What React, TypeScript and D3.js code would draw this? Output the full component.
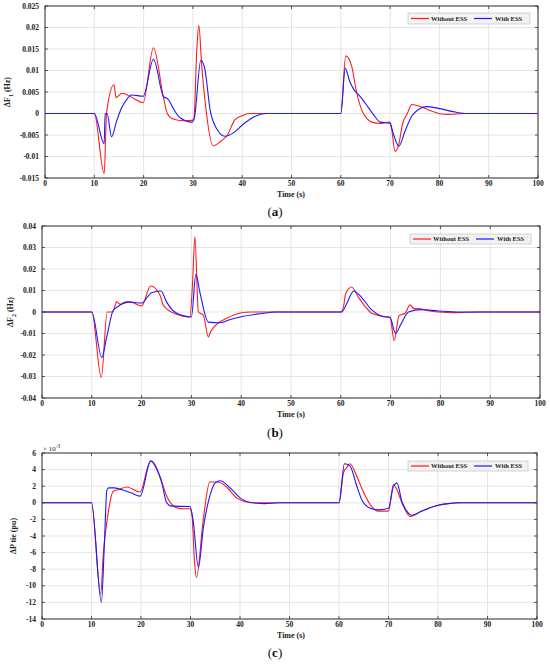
import { useEffect, useRef } from "react";
import * as d3 from "d3";

type Pt = [number, number];

const timeTicks = [0, 10, 20, 30, 40, 50, 60, 70, 80, 90, 100];
const legendNames = ["Without ESS", "With ESS"];

// (a) frequency deviation, area 1
const f1Ticks = [-0.015, -0.01, -0.005, 0, 0.005, 0.01, 0.015, 0.02, 0.025];
const f1Without: Pt[] = [
  [0, 0], [10, 0], [12, -0.014], [12.5, 0.0003], [14, 0.0067], [14.4, 0.0037], [15.6, 0.0047],
  [18, 0.0035], [19.9, 0.0025], [22, 0.0153], [24, 0.0039], [24.8, 0], [26, -0.0013],
  [28, -0.0017], [29.8, -0.0016], [30.2, -0.0012], [30.8, 0.015], [31.2, 0.0205], [31.8, 0.011],
  [32.6, 0.0015], [34.1, -0.0075], [35.5, -0.0066], [37, -0.005], [38.5, -0.0015], [40, -0.0005],
  [41.5, 0], [60, 0], [61, 0.0134], [62.2, 0.011], [63.2, 0.005], [64.2, 0.0009], [65.3, -0.0012],
  [66.3, -0.002], [68, -0.0023], [69.9, -0.002], [70.3, -0.0035], [71, -0.0088], [71.8, -0.007],
  [72.5, -0.0025], [73.5, 0], [74.4, 0.0021], [76.4, 0.0015], [78.4, 0.0006], [79.8, 0],
  [81.8, -0.0002], [85, 0], [100, 0],
];
const f1With: Pt[] = [
  [0, 0], [10, 0], [12, -0.007], [12.2, 0], [12.6, 0], [13.5, -0.0054], [14.5, -0.0019],
  [15.5, 0.0012], [16.6, 0.0033], [17.6, 0.0043], [19.9, 0.004], [22, 0.0126], [24, 0.004],
  [25, 0.0033], [26.2, 0.0008], [27.4, -0.001], [29.8, -0.002], [30.3, -0.001], [31.6, 0.0124],
  [32.4, 0.0105], [33.5, 0.0008], [34.8, -0.0035], [36.5, -0.0053], [38.2, -0.0045],
  [40.2, -0.0025], [42.9, -0.0005], [45, 0], [60, 0], [60.9, 0.0105], [61.8, 0.0075],
  [62.7, 0.0055], [63.9, 0.004], [64.9, 0.0025], [66.6, -0.0002], [68, -0.002], [70, -0.0023],
  [70.6, -0.0045], [71.8, -0.0076], [73, -0.0042], [74.4, -0.0006], [75.7, 0.0009],
  [77.4, 0.0016], [79.8, 0.0012], [82.5, 0.0005], [85.2, 0], [100, 0],
];

// (b) frequency deviation, area 2
const f2Ticks = [-0.04, -0.03, -0.02, -0.01, 0, 0.01, 0.02, 0.03, 0.04];
const f2Without: Pt[] = [
  [0, 0], [10, 0], [11.9, -0.0305], [13.1, 0], [14.2, 0], [15, 0.0047], [15.7, 0.0036],
  [17.7, 0.0047], [20, 0.0028], [21.8, 0.0121], [23.7, 0.0078], [24.4, 0.003], [27, -0.001],
  [29.7, -0.0023], [30.2, 0.012], [30.7, 0.035], [31.4, 0], [32.4, -0.0015], [33.4, -0.0116],
  [33.9, -0.009], [35.7, -0.0046], [37, -0.003], [39.8, -0.0005], [42, 0], [60, 0], [60.5, 0.002],
  [61, 0.0087], [62.2, 0.0116], [63.5, 0.007], [64.9, 0.0025], [66.2, -0.0006], [68.2, -0.0019],
  [69.9, -0.0025], [70.7, -0.0133], [71.7, -0.0017], [72.9, -0.0006], [73.9, 0.0033],
  [74.6, 0.0017], [76.2, 0.0014], [77.6, 0.0006], [79.6, 0], [82.9, -0.0003], [88, 0], [100, 0],
];
const f2With: Pt[] = [
  [0, 0], [10, 0], [12, -0.0212], [13, -0.0116], [14.3, 0.0008], [15.3, 0.0026], [17, 0.0047],
  [20, 0.0042], [22, 0.009], [23.9, 0.0098], [25, 0.0047], [27, -0.0005], [30, -0.0023],
  [30.9, 0.0175], [31.7, 0.0093], [33.4, -0.0047], [35.7, -0.005], [37.5, -0.0037],
  [39.8, -0.0023], [43.8, -0.0008], [47, 0], [60.2, 0], [61.2, 0.004], [62.6, 0.0098],
  [64.2, 0.0067], [66.2, 0.001], [68.2, -0.002], [69.9, -0.0027], [71, -0.0099], [72, -0.006],
  [73.6, 0], [76.2, 0.0011], [79.6, 0.0005], [84, 0], [100, 0],
];

// (c) tie-line power deviation (x 10^-3 pu)
const pTicks = [-14, -12, -10, -8, -6, -4, -2, 0, 2, 4, 6];
const pWithout: Pt[] = [
  [0, 0], [10, 0], [11.85, -11], [12.4, -6], [13.2, -1.9], [14.4, 1.4], [15.5, 1.6], [17.1, 1.9],
  [19.8, 1.3], [21.9, 5], [23.8, 3.2], [25.2, 0.8], [26.5, -0.35], [27.9, -0.7], [29.9, -0.72],
  [30.3, -1.5], [30.8, -7], [31.2, -9], [32.6, -1.9], [33.9, 2.5], [35.5, 2.5], [37.3, 1.9],
  [39.3, 0.6], [41.3, 0.1], [43, 0], [60, 0], [60.9, 3.6], [61.5, 4.2], [62.2, 4.7], [63.6, 3.2],
  [64.7, 1.6], [66.6, -0.45], [67.9, -1], [70, -1], [71, 2.2], [71.7, 1.6], [72.7, 0],
  [73.7, -1.2], [74.3, -1.65], [76.7, -1], [80, -0.3], [82, -0.1], [85, 0], [100, 0],
];
const pWith: Pt[] = [
  [0, 0], [10, 0], [12, -12], [12.6, -5], [13.1, 1.5], [13.5, 1.8], [14.5, 1.8], [16, 1.6],
  [18, 1.2], [19.8, 0.8], [22, 5.05], [24.2, 2.4], [25.2, 0], [26.2, -0.4], [29.9, -0.45],
  [30.5, -2], [31.6, -7.8], [32.6, -3], [33.9, 0.8], [35, 2.4], [36, 2.65], [38, 1.8], [40, 0.6],
  [42.6, 0], [45, -0.1], [48, 0], [60, 0], [61.1, 4.7], [62.2, 4.45], [63.6, 2], [64.7, 0.24],
  [66.3, -0.65], [67.9, -0.85], [70, -0.65], [71, 2], [71.7, 2.4], [72.7, 0.16], [73.7, -1],
  [74.7, -1.5], [76.7, -1], [80, -0.3], [82.1, -0.1], [84, 0], [100, 0],
];

const SERIF = "'Liberation Serif', 'Times New Roman', serif";
const RED = "#ff1a1a";
const BLUE = "#1a1aff";

interface Panel {
  left: number;
  right: number;
  top: number;
  bottom: number;
  yTicks: number[];
  yFmt: (v: number) => string;
  without: Pt[];
  withEss: Pt[];
  label: string;
  sub: string;
  unit: string;
  labelX: number;
  caption: string;
  captionY: number;
  legend: { x: number; y: number; w: number; h: number };
  exponent?: boolean;
}

const panels: Panel[] = [
  {
    left: 45, right: 538, top: 6, bottom: 178,
    yTicks: f1Ticks, yFmt: (v) => String(+v.toFixed(3)),
    without: f1Without, withEss: f1With,
    label: "ΔF", sub: "1", unit: " (Hz)", labelX: 10,
    caption: "a", captionY: 216,
    legend: { x: 408, y: 13, w: 122, h: 11 },
  },
  {
    left: 42, right: 540, top: 226, bottom: 398,
    yTicks: f2Ticks, yFmt: (v) => String(+v.toFixed(2)),
    without: f2Without, withEss: f2With,
    label: "ΔF", sub: "2", unit: " (Hz)", labelX: 13,
    caption: "b", captionY: 437,
    legend: { x: 410, y: 234, w: 121, h: 10 },
  },
  {
    left: 42, right: 537, top: 453, bottom: 619,
    yTicks: pTicks, yFmt: (v) => String(v),
    without: pWithout, withEss: pWith,
    label: "ΔP tie (pu)", sub: "", unit: "", labelX: 16,
    caption: "c", captionY: 657,
    legend: { x: 408, y: 461, w: 120, h: 10 },
    exponent: true,
  },
];

export default function App() {
  const ref = useRef<SVGSVGElement | null>(null);

  useEffect(() => {
    const svg = d3.select(ref.current);
    svg.selectAll("*").remove();

    panels.forEach((p) => {
      const x = d3.scaleLinear().domain([0, 100]).range([p.left, p.right]);
      const yExt = d3.extent(p.yTicks) as [number, number];
      const y = d3.scaleLinear().domain(yExt).range([p.bottom, p.top]);
      const g = svg.append("g");

      // grid
      timeTicks.forEach((t) => {
        g.append("line")
          .attr("x1", x(t)).attr("x2", x(t))
          .attr("y1", p.top).attr("y2", p.bottom)
          .attr("stroke", "#dedede").attr("stroke-width", 0.8);
      });
      p.yTicks.forEach((v) => {
        g.append("line")
          .attr("x1", p.left).attr("x2", p.right)
          .attr("y1", y(v)).attr("y2", y(v))
          .attr("stroke", "#dedede").attr("stroke-width", 0.8);
      });

      // ticks (inward, all sides)
      timeTicks.forEach((t) => {
        g.append("line").attr("x1", x(t)).attr("x2", x(t)).attr("y1", p.bottom).attr("y2", p.bottom - 3)
          .attr("stroke", "#333").attr("stroke-width", 0.8);
        g.append("line").attr("x1", x(t)).attr("x2", x(t)).attr("y1", p.top).attr("y2", p.top + 3)
          .attr("stroke", "#333").attr("stroke-width", 0.8);
        g.append("text")
          .attr("x", x(t)).attr("y", p.bottom + 8)
          .attr("text-anchor", "middle")
          .attr("font-family", SERIF).attr("font-size", 7.5).attr("font-weight", "bold")
          .attr("fill", "#222")
          .text(t);
      });
      p.yTicks.forEach((v) => {
        g.append("line").attr("x1", p.left).attr("x2", p.left + 3).attr("y1", y(v)).attr("y2", y(v))
          .attr("stroke", "#333").attr("stroke-width", 0.8);
        g.append("line").attr("x1", p.right).attr("x2", p.right - 3).attr("y1", y(v)).attr("y2", y(v))
          .attr("stroke", "#333").attr("stroke-width", 0.8);
        g.append("text")
          .attr("x", p.left - 6).attr("y", y(v) + 2.5)
          .attr("text-anchor", "end")
          .attr("font-family", SERIF).attr("font-size", 7.5).attr("font-weight", "bold")
          .attr("fill", "#222")
          .text(p.yFmt(v));
      });

      // series
      const line = d3
        .line<Pt>()
        .x((d) => x(d[0]))
        .y((d) => y(d[1]))
        .curve(d3.curveMonotoneX);
      g.append("path").datum(p.without).attr("fill", "none").attr("stroke", RED)
        .attr("stroke-width", 1.1).attr("stroke-linejoin", "round").attr("d", line);
      g.append("path").datum(p.withEss).attr("fill", "none").attr("stroke", BLUE)
        .attr("stroke-width", 1.1).attr("stroke-linejoin", "round").attr("d", line);

      // frame
      g.append("rect")
        .attr("x", p.left).attr("y", p.top)
        .attr("width", p.right - p.left).attr("height", p.bottom - p.top)
        .attr("fill", "none").attr("stroke", "#333").attr("stroke-width", 1);

      // y label
      const cy = (p.top + p.bottom) / 2;
      const yl = g.append("text")
        .attr("transform", `translate(${p.labelX},${cy}) rotate(-90)`)
        .attr("text-anchor", "middle")
        .attr("font-family", SERIF).attr("font-size", 8).attr("font-weight", "bold")
        .attr("fill", "#222");
      yl.append("tspan").text(p.label);
      if (p.sub) {
        yl.append("tspan").attr("font-size", 6).attr("dy", 2.5).text(p.sub);
        yl.append("tspan").attr("dy", -2.5).text(p.unit);
      }

      if (p.exponent) {
        const ex = g.append("text")
          .attr("x", p.left + 1).attr("y", p.top - 2)
          .attr("font-family", SERIF).attr("font-size", 7).attr("fill", "#222");
        ex.append("tspan").text("× 10");
        ex.append("tspan").attr("font-size", 5.5).attr("dy", -3).text("-3");
      }

      // x label
      g.append("text")
        .attr("x", 291).attr("y", p.bottom + 18.5)
        .attr("text-anchor", "middle")
        .attr("font-family", SERIF).attr("font-size", 8).attr("font-weight", "bold")
        .attr("fill", "#222")
        .text("Time (s)");

      // caption
      const cap = g.append("text")
        .attr("x", 275).attr("y", p.captionY)
        .attr("text-anchor", "middle")
        .attr("font-family", SERIF).attr("font-size", 13).attr("fill", "#111");
      cap.append("tspan").text("(");
      cap.append("tspan").attr("font-weight", "bold").text(p.caption);
      cap.append("tspan").text(")");

      // legend
      const L = p.legend;
      const lg = g.append("g");
      lg.append("rect")
        .attr("x", L.x).attr("y", L.y).attr("width", L.w).attr("height", L.h)
        .attr("fill", "#f2f2f2").attr("stroke", "#b8b8b8").attr("stroke-width", 0.6);
      const my = L.y + L.h / 2;
      const items = [
        { name: legendNames[0], color: RED, x0: L.x + 3, tx: L.x + 23 },
        { name: legendNames[1], color: BLUE, x0: L.x + 66, tx: L.x + 87 },
      ];
      items.forEach((it) => {
        lg.append("line")
          .attr("x1", it.x0).attr("x2", it.x0 + 18)
          .attr("y1", my).attr("y2", my)
          .attr("stroke", it.color).attr("stroke-width", 1.2);
        lg.append("text")
          .attr("x", it.tx).attr("y", my + 2.3)
          .attr("font-family", SERIF).attr("font-size", 6.5).attr("font-weight", "bold")
          .attr("fill", "#222")
          .text(it.name);
      });
    });
  }, []);

  return (
    <svg
      ref={ref}
      width={550}
      height={664}
      style={{ position: "absolute", left: 0, top: 0, background: "#fff" }}
    />
  );
}
